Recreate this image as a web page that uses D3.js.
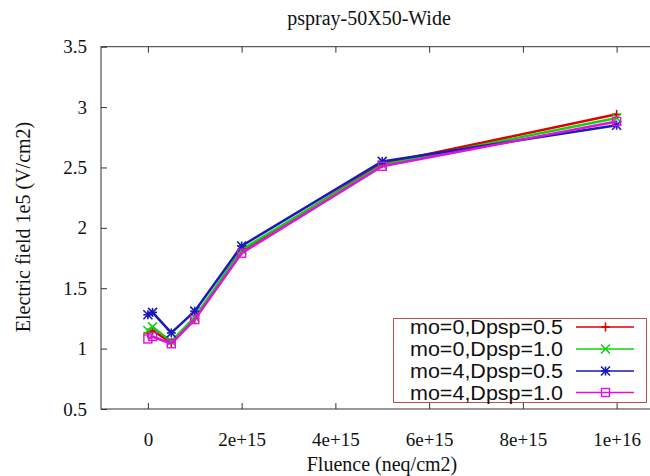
<!DOCTYPE html>
<html><head><meta charset="utf-8">
<script src="https://cdn.jsdelivr.net/npm/d3@7"></script>
<style>body{margin:0;background:#fff}svg{display:block}</style>
</head><body><svg id="c" width="650" height="476"></svg>
<script>
const fluence = [0, 1e14, 5e14, 1e15, 2e15, 5e15, 1e16];
const seriesNames = ["mo=0,Dpsp=0.5", "mo=0,Dpsp=1.0", "mo=4,Dpsp=0.5", "mo=4,Dpsp=1.0"];
const red05   = [1.13, 1.15, 1.05, 1.25, 1.81, 2.53, 2.94];
const green10 = [1.15, 1.18, 1.06, 1.26, 1.82, 2.52, 2.91];
const blue05  = [1.28, 1.30, 1.13, 1.31, 1.85, 2.55, 2.85];
const mag10   = [1.08, 1.10, 1.04, 1.24, 1.79, 2.51, 2.88];
const xTicks = [0, 2e15, 4e15, 6e15, 8e15, 1e16];
const xTickLabels = ["0", "2e+15", "4e+15", "6e+15", "8e+15", "1e+16"];
const yTicks = [0.5, 1, 1.5, 2, 2.5, 3, 3.5];
const yTickLabels = ["0.5", "1", "1.5", "2", "2.5", "3", "3.5"];
const seriesValues = [red05, green10, blue05, mag10];
const colors = ["#e00000", "#10d010", "#1a1ab4", "#e010e0"];
const markers = ["plus", "cross", "star", "square"];

const svg = d3.select("#c");
const L = 101, R = 663.5, T = 46.7, B = 409;
const x = d3.scaleLinear().domain([-1e15, 1.1e16]).range([L, R]);
const y = d3.scaleLinear().domain([0.5, 3.5]).range([B, T]);
const serif = "'Liberation Serif','Times New Roman',serif";
const sans = "'Liberation Sans',Arial,sans-serif";
const axisCol = "#333";

// frame
svg.append("rect").attr("x", L).attr("y", T).attr("width", R - L).attr("height", B - T)
  .attr("fill", "none").attr("stroke", axisCol).attr("stroke-width", 1);

// x axis bottom
const xAxis = d3.axisBottom(x).tickValues(xTicks).tickFormat((d, i) => xTickLabels[i]).tickSizeInner(-6).tickSizeOuter(0).tickPadding(24);
const gx = svg.append("g").attr("transform", `translate(0,${B})`).call(xAxis);
gx.select(".domain").remove();
gx.selectAll("line").attr("stroke", axisCol);
gx.selectAll("text").attr("font-family", serif).attr("font-size", 19).attr("fill", "#111");
// x ticks top
const gxt = svg.append("g").attr("transform", `translate(0,${T})`).call(d3.axisTop(x).tickValues(xTicks).tickFormat("").tickSizeInner(-6).tickSizeOuter(0));
gxt.select(".domain").remove();
gxt.selectAll("line").attr("stroke", axisCol);

// y axis
const yAxis = d3.axisLeft(y).tickValues(yTicks).tickFormat((d, i) => yTickLabels[i]).tickSizeInner(-6).tickSizeOuter(0).tickPadding(14);
const gy = svg.append("g").attr("transform", `translate(${L},0)`).call(yAxis);
gy.select(".domain").remove();
gy.selectAll("line").attr("stroke", axisCol);
gy.selectAll("text").attr("font-family", serif).attr("font-size", 19).attr("fill", "#111");

// titles
svg.append("text").attr("x", 369).attr("y", 25).attr("text-anchor", "middle")
  .attr("font-family", serif).attr("font-size", 20).attr("fill", "#111").text("pspray-50X50-Wide");
svg.append("text").attr("x", 382).attr("y", 471).attr("text-anchor", "middle")
  .attr("font-family", serif).attr("font-size", 20).attr("fill", "#111").text("Fluence (neq/cm2)");
svg.append("text").attr("transform", "translate(30,227) rotate(-90)").attr("text-anchor", "middle")
  .attr("font-family", serif).attr("font-size", 20).attr("fill", "#111").text("Electric field 1e5 (V/cm2)");

function drawMarker(g, type, cx, cy, col) {
  const s = 4.5;
  if (type === "plus" || type === "star") {
    g.append("line").attr("x1", cx - s).attr("x2", cx + s).attr("y1", cy).attr("y2", cy).attr("stroke", col).attr("stroke-width", 1.6);
    g.append("line").attr("x1", cx).attr("x2", cx).attr("y1", cy - s).attr("y2", cy + s).attr("stroke", col).attr("stroke-width", 1.6);
  }
  if (type === "cross" || type === "star") {
    g.append("line").attr("x1", cx - s).attr("x2", cx + s).attr("y1", cy - s).attr("y2", cy + s).attr("stroke", col).attr("stroke-width", 1.6);
    g.append("line").attr("x1", cx - s).attr("x2", cx + s).attr("y1", cy + s).attr("y2", cy - s).attr("stroke", col).attr("stroke-width", 1.6);
  }
  if (type === "square") {
    g.append("rect").attr("x", cx - 4).attr("y", cy - 4).attr("width", 8).attr("height", 8)
      .attr("fill", "none").attr("stroke", col).attr("stroke-width", 1.4);
  }
}

const line = d3.line().x((d, i) => x(fluence[i])).y(d => y(d));
const plot = svg.append("g");
seriesValues.forEach((vals, k) => {
  plot.append("path").datum(vals).attr("d", line).attr("fill", "none")
    .attr("stroke", colors[k]).attr("stroke-width", 2.5).attr("stroke-linejoin", "round");
  vals.forEach((v, i) => drawMarker(plot, markers[k], x(fluence[i]), y(v), colors[k]));
});

// legend
const lg = svg.append("g");
lg.append("rect").attr("x", 393.5).attr("y", 318.5).attr("width", 253).attr("height", 84)
  .attr("fill", "#fff").attr("stroke", "#c05050").attr("stroke-width", 1);
const rowY = [327, 349, 371, 392.5];
seriesNames.forEach((name, k) => {
  lg.append("text").attr("x", 563).attr("y", rowY[k] + 7).attr("text-anchor", "end")
    .attr("font-family", sans).attr("font-size", 19.5)
    .attr("textLength", 153).attr("lengthAdjust", "spacingAndGlyphs")
    .attr("fill", "#111").text(name);
  lg.append("line").attr("x1", 576).attr("x2", 634).attr("y1", rowY[k]).attr("y2", rowY[k])
    .attr("stroke", colors[k]).attr("stroke-width", 1.5);
  drawMarker(lg, markers[k], 605.5, rowY[k], colors[k]);
});
</script></body></html>
